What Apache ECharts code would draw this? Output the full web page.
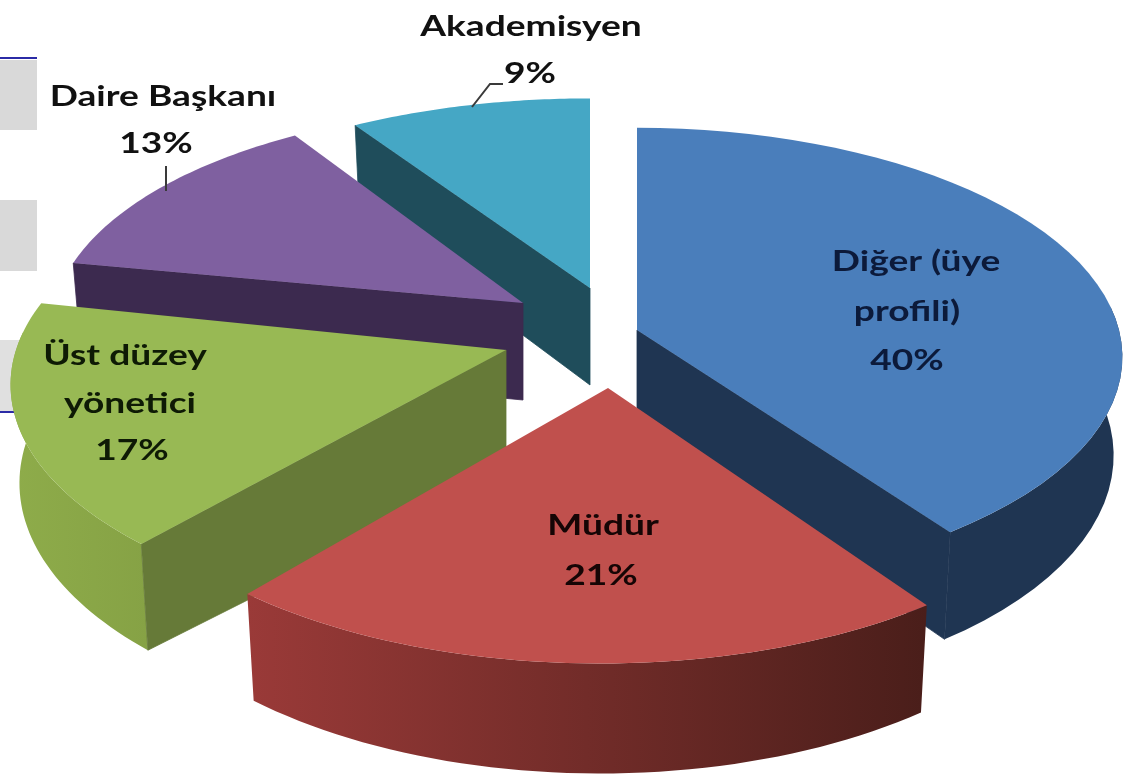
<!DOCTYPE html>
<html>
<head>
<meta charset="utf-8">
<style>html,body{margin:0;padding:0;background:#fff}#c{width:1123px;height:777px}</style>
<script src="https://cdn.jsdelivr.net/npm/echarts@6/dist/echarts.min.js"></script>
</head>
<body>
<div id="c"></div>
<script>
// ---- data ----
var categories = ['Diğer (üye\nprofili)', 'Müdür', 'Üst düzey\nyönetici', 'Daire Başkanı', 'Akademisyen'];
var shares = [40, 21, 17, 13, 9];

// ---- appearance (per slice, same order as the data) ----
var topColors = ['#4a7ebb', '#c0504d', '#98b954', '#7f60a0', '#45a7c5'];
var cutColors = ['#1f3552', '#6e2a28', '#667a38', '#3c2a4f', '#1f4d5b'];
var arcColors = [
  ['#1f3552', '#1f3552'],
  ['#9a3a38', '#4a1e1a'],
  ['#8eac4a', '#86a245'],
  ['#3c2a4f', '#3c2a4f'],
  ['#1f4d5b', '#1f4d5b']
];
var textColors = ['#0c1a3a', '#150505', '#0e1a05', '#111', '#111'];
var PERSPECTIVE = 0.118, DEPTH = 97, BOTTOM_SHRINK = 0.982;
// the exploded 3-D layout: apex, arc centre offset, radii, rotation, inner wall depth, paint order
var layout = [
  {ax: 637, ay: 330, ox: 0,  oy: 0, rx: 482, ry: 226, rot: 0, inner: 97,  z: 4, label: [[916, 262], [907, 312], [907, 361]]},
  {ax: 608, ay: 388, ox: -8, oy: 0, rx: 503, ry: 243, rot: 0, inner: 97,  z: 5, label: [[603, 526], [601, 576]]},
  {ax: 506, ay: 350, ox: 0,  oy: 7, rx: 492, ry: 232, rot: 3, inner: 120, z: 3, label: [[125, 356], [130, 404], [132, 451]]},
  {ax: 523, ay: 303, ox: 0,  oy: 0, rx: 468, ry: 218, rot: 0, inner: 97,  z: 2, label: [[163, 97], [156, 144]]},
  {ax: 590, ay: 288, ox: 0,  oy: 0, rx: 482, ry: 212, rot: 0, inner: 97,  z: 1, label: [[531, 27], [530, 74]]}
];
var leaders = {
  3: [[166, 166], [166, 191]],
  4: [[503, 84], [490, 84], [472, 107]]
};

var total = shares.reduce(function (a, b) { return a + b; }, 0);

function kOf(v) { return 1 / (1 + PERSPECTIVE * v); }
function rimPoint(l, deg) {
  var t = deg * Math.PI / 180, u = Math.sin(t), v = Math.cos(t), k = kOf(v);
  var x = l.ax + l.ox + l.rx * u * k, y = l.ay + l.oy - l.ry * v * k;
  return {top: [x, y], bot: [l.ax + l.ox + (x - l.ax - l.ox) * BOTTOM_SHRINK, y + DEPTH * k], cos: v, sin: u};
}

function renderSlice(params, api) {
  var i = params.dataIndex, l = layout[i], value = api.value(0);
  var before = 0;
  for (var n = 0; n < i; n++) before += shares[n];
  var a0 = before / total * 360 + l.rot, a1 = (before + value) / total * 360 + l.rot;
  var rim = [], steps = 48;
  for (var s = 0; s <= steps; s++) rim.push(rimPoint(l, a0 + (a1 - a0) * s / steps));
  var apexTop = [l.ax, l.ay], apexBot = [l.ax, l.ay + l.inner];
  var children = [];

  // outer curved wall: only the part that faces the viewer
  var front = rim.filter(function (p) { return p.cos <= PERSPECTIVE; });
  if (front.length > 1) {
    var pts = front.map(function (p) { return p.top; })
      .concat(front.slice().reverse().map(function (p) { return p.bot; }));
    var grad = {type: 'linear', x: 0, y: 0, x2: 1, y2: 0, colorStops: [
      {offset: 0, color: arcColors[i][0]}, {offset: 1, color: arcColors[i][1]}
    ]};
    children.push({type: 'polygon', z2: l.z * 10, shape: {points: pts}, style: {fill: grad}});
  }
  // straight cut faces that face the viewer
  var first = rim[0], last = rim[rim.length - 1];
  var cutStyle = {fill: cutColors[i], stroke: cutColors[i], lineWidth: 0.8};
  if (first.sin < -0.01) children.push({type: 'polygon', z2: l.z * 10 + 1,
    shape: {points: [apexTop, first.top, first.bot, apexBot]}, style: cutStyle});
  if (last.sin > 0.01) children.push({type: 'polygon', z2: l.z * 10 + 1,
    shape: {points: [apexTop, last.top, last.bot, apexBot]}, style: cutStyle});
  // top face
  children.push({type: 'polygon', z2: l.z * 10 + 2,
    shape: {points: [apexTop].concat(rim.map(function (p) { return p.top; }))},
    style: {fill: topColors[i]}});

  // labels (the reference's type is horizontally stretched)
  var lines = categories[i].split('\n').concat([Math.round(value / total * 100) + '%']);
  lines.forEach(function (t, j) {
    children.push({type: 'text', z2: 200, x: l.label[j][0], y: l.label[j][1], scaleX: 1.28, style: {
      text: t, x: 0, y: 0, align: 'center', verticalAlign: 'middle',
      fill: textColors[i], font: 'bold 29px Lato, "Open Sans", sans-serif'
    }});
  });
  if (leaders[i]) children.push({type: 'polyline', z2: 199, shape: {points: leaders[i]},
    style: {fill: 'none', stroke: '#3a3a3a', lineWidth: 2}});
  return {type: 'group', children: children};
}

var chart = echarts.init(document.getElementById('c'), null, {renderer: 'canvas'});
chart.setOption({
  animation: false,
  backgroundColor: '#ffffff',
  graphic: {elements: [
    {type: 'rect', z: 0, shape: {x: 0, y: 60, width: 37, height: 70}, style: {fill: '#d9d9d9'}},
    {type: 'rect', z: 0, shape: {x: 0, y: 200, width: 37, height: 71}, style: {fill: '#d9d9d9'}},
    {type: 'rect', z: 0, shape: {x: 0, y: 340, width: 37, height: 71}, style: {fill: '#e0e0e0'}},
    {type: 'rect', z: 0, shape: {x: 0, y: 57, width: 37, height: 2}, style: {fill: '#2b2ba6'}},
    {type: 'rect', z: 0, shape: {x: 0, y: 411, width: 37, height: 2}, style: {fill: '#2b2ba6'}}
  ]},
  series: [{
    type: 'custom',
    coordinateSystem: 'none',
    z: 2,
    silent: true,
    renderItem: renderSlice,
    data: shares.map(function (v, i) { return {name: categories[i], value: [v]}; })
  }]
});
</script>
</body>
</html>
